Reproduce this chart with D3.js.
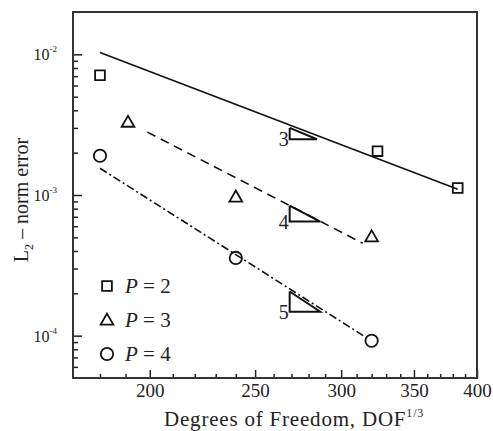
<!DOCTYPE html>
<html>
<head>
<meta charset="utf-8">
<script src="https://cdn.jsdelivr.net/npm/d3@7"></script>
<style>
  html, body { margin: 0; padding: 0; background: #fff; }
</style>
</head>
<body>
<svg id="chart" width="493" height="431" font-family="'Liberation Serif', 'Times New Roman', Times, serif"></svg>
<script>
// Convergence of the L2-norm error versus DOF^(1/3) for polynomial orders P = 2, 3, 4

// Measured errors
const dofP2 = [180, 324, 384];
const errP2 = [7.1e-3, 2.05e-3, 1.12e-3];
const dofP3 = [191, 240, 320];
const errP3 = [3.3e-3, 9.7e-4, 5.05e-4];
const dofP4 = [180, 240, 320];
const errP4 = [1.9e-3, 3.57e-4, 9.2e-5];

// Reference slope lines (end points)
const fitDofP2 = [180, 384];
const fitErrP2 = [1.03e-2, 1.1e-3];
const fitDofP3 = [199, 314];
const fitErrP3 = [2.8e-3, 4.54e-4];
const fitDofP4 = [180, 315];
const fitErrP4 = [1.55e-3, 9.9e-5];

// Slope triangles: left x, right x, top error, bottom error, order label
const triX0 = [269, 269, 269];
const triX1 = [285, 287, 287];
const triTop = [3.0e-3, 8.4e-4, 2.06e-4];
const triBottom = [2.49e-3, 6.47e-4, 1.48e-4];
const triLabel = ["3", "4", "5"];

// Axis ticks
const xMajorTicks = [200, 250, 300, 350, 400];
const xMinorTicks = [180, 190, 210, 220, 230, 240, 260, 270, 280, 290, 310, 320, 330, 340, 360, 370, 380, 390];
const yMajorTicks = [1e-2, 1e-3, 1e-4];
const yMajorExp = ["-2", "-3", "-4"];
const yMinorTicks = [6e-5, 7e-5, 8e-5, 9e-5,
  2e-4, 3e-4, 4e-4, 5e-4, 6e-4, 7e-4, 8e-4, 9e-4,
  2e-3, 3e-3, 4e-3, 5e-3, 6e-3, 7e-3, 8e-3, 9e-3];

const legendLabels = ["2", "3", "4"];

const FONT = "'Liberation Serif', 'Times New Roman', Times, serif";
const svg = d3.select("#chart");
const plotLeft = 73, plotRight = 477, plotTop = 12, plotBottom = 378;

const x = d3.scaleLog().domain([170, 400]).range([plotLeft, plotRight]);
const y = d3.scaleLog().domain([5e-5, 2e-2]).range([plotBottom, plotTop]);

const ink = "#222";

// Ticks (inward)
const gx = svg.append("g").attr("transform", `translate(0,${plotBottom})`);
gx.call(d3.axisBottom(x).tickValues(xMajorTicks).tickSize(-8).tickPadding(6).tickFormat(d3.format("d")));
gx.append("g").call(d3.axisBottom(x).tickValues(xMinorTicks).tickSize(-4).tickFormat(""));
gx.selectAll(".domain").remove();
gx.attr("font-family", FONT).attr("font-size", 19);
gx.selectAll("g").attr("font-family", FONT);
gx.selectAll("line").attr("stroke", ink).attr("stroke-width", 1.5);
gx.selectAll("text").attr("font-size", 19).attr("fill", ink).attr("font-family", FONT);

const gy = svg.append("g").attr("transform", `translate(${plotLeft},0)`);
gy.call(d3.axisLeft(y).tickValues(yMajorTicks).tickSize(-9).tickPadding(8).tickFormat(""));
gy.append("g").call(d3.axisLeft(y).tickValues(yMinorTicks).tickSize(-5).tickFormat(""));
gy.selectAll(".domain").remove();
gy.selectAll("line").attr("stroke", ink).attr("stroke-width", 1.5);

// Power-of-ten labels
yMajorTicks.forEach((v, i) => {
  const t = svg.append("text")
    .attr("x", 57).attr("y", y(v) + 6)
    .attr("text-anchor", "end")
    .attr("font-family", FONT).attr("fill", ink)
    .attr("font-size", 16);
  t.append("tspan").text("10");
  t.append("tspan").attr("dy", -8).attr("font-size", 9).text(yMajorExp[i]);
});

// Frame
svg.append("rect")
  .attr("x", plotLeft).attr("y", plotTop)
  .attr("width", plotRight - plotLeft).attr("height", plotBottom - plotTop)
  .attr("fill", "none").attr("stroke", "#333").attr("stroke-width", 2);

// Axis titles
const xt = svg.append("text")
  .attr("x", 164).attr("y", 426)
  .attr("font-family", FONT).attr("fill", ink)
  .attr("letter-spacing", 0.8)
  .attr("font-size", 21);
xt.append("tspan").text("Degrees of Freedom, DOF");
xt.append("tspan").attr("dy", -9).attr("font-size", 12).text("1/3");

const yt = svg.append("text")
  .attr("transform", "translate(28,200) rotate(-90)")
  .attr("text-anchor", "middle")
  .attr("font-family", FONT).attr("fill", ink)
  .attr("font-size", 20);
yt.append("tspan").text("L");
yt.append("tspan").attr("dy", 5).attr("font-size", 12).text("2");
yt.append("tspan").attr("dy", -5).text(" \u2013 norm error");

// Fit lines
const line = d3.line().x(d => x(d[0])).y(d => y(d[1]));
const fits = [
  { xs: fitDofP2, ys: fitErrP2, dash: null },
  { xs: fitDofP3, ys: fitErrP3, dash: "9,6" },
  { xs: fitDofP4, ys: fitErrP4, dash: "8,3,2,3" }
];
fits.forEach(f => {
  svg.append("path")
    .datum(d3.zip(f.xs, f.ys))
    .attr("d", line)
    .attr("fill", "none")
    .attr("stroke", "#111")
    .attr("stroke-width", 1.6)
    .attr("stroke-dasharray", f.dash);
});

// Slope triangles
triX0.forEach((x0, i) => {
  const pts = [[x0, triTop[i]], [x0, triBottom[i]], [triX1[i], triBottom[i]], [x0, triTop[i]]];
  svg.append("path")
    .attr("d", line(pts))
    .attr("fill", "none").attr("stroke", "#111").attr("stroke-width", 2);
  svg.append("text")
    .attr("x", x(x0) - 1).attr("y", y(triBottom[i]) + 7)
    .attr("text-anchor", "end")
    .attr("font-family", FONT).attr("fill", ink)
    .attr("font-size", 20)
    .text(triLabel[i]);
});

// Markers
const symSquare = d3.symbol().type(d3.symbolSquare).size(95);
const symTri = d3.symbol().type(d3.symbolTriangle).size(70);
const symCirc = d3.symbol().type(d3.symbolCircle).size(120);
const series = [
  { xs: dofP2, ys: errP2, sym: symSquare, dy: 0 },
  { xs: dofP3, ys: errP3, sym: symTri, dy: 1 },
  { xs: dofP4, ys: errP4, sym: symCirc, dy: 0 }
];
series.forEach(s => {
  svg.append("g").selectAll("path")
    .data(d3.zip(s.xs, s.ys))
    .join("path")
    .attr("transform", d => `translate(${x(d[0])},${y(d[1]) + s.dy})`)
    .attr("d", s.sym())
    .attr("fill", "none").attr("stroke", "#111").attr("stroke-width", 1.8);
});

// Legend
const legendY = [286, 320, 354];
series.forEach((s, i) => {
  svg.append("path")
    .attr("transform", `translate(107,${legendY[i] + s.dy})`)
    .attr("d", s.sym())
    .attr("fill", "none").attr("stroke", "#111").attr("stroke-width", 1.8);
  const t = svg.append("text")
    .attr("x", 125).attr("y", legendY[i] + 7)
    .attr("font-family", FONT).attr("fill", ink)
    .attr("font-size", 21);
  t.append("tspan").attr("font-style", "italic").text("P");
  t.append("tspan").text(" = " + legendLabels[i]);
});
</script>
</body>
</html>
